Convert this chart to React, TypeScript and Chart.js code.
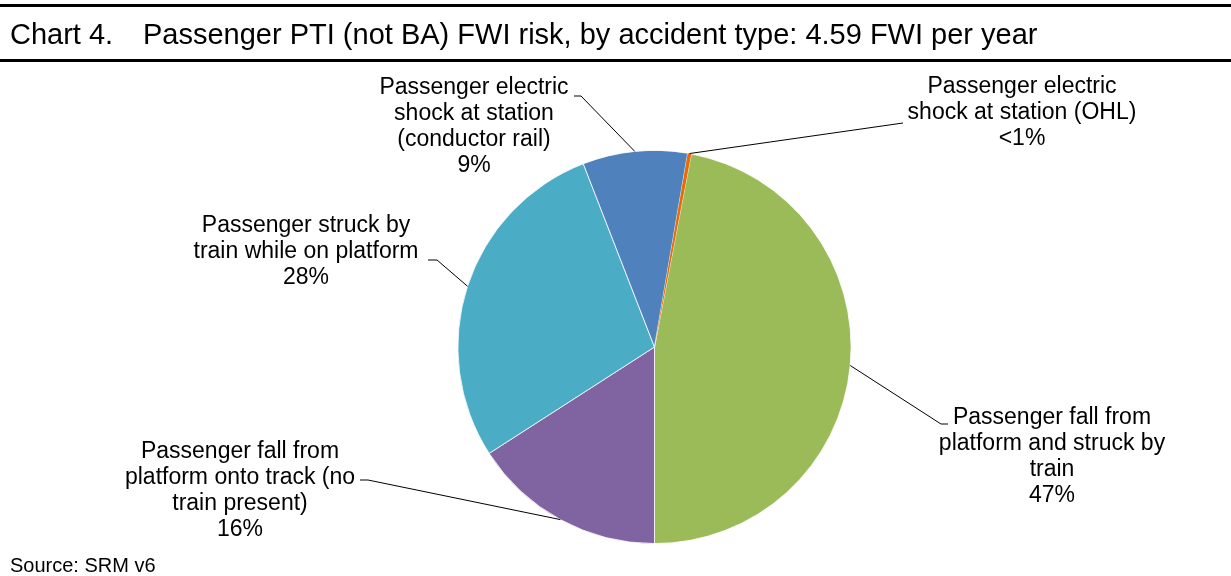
import React, { useEffect, useRef } from "react";
import { Chart, registerables } from "chart.js";

Chart.register(...registerables);

// ---- data ----
const categories = [
  "Passenger fall from platform and struck by train",
  "Passenger fall from platform onto track (no train present)",
  "Passenger struck by train while on platform",
  "Passenger electric shock at station (conductor rail)",
  "Passenger electric shock at station (OHL)",
];
const shares = [47.0, 15.9, 28.2, 8.6, 0.3];
const pctLabels = ["47%", "16%", "28%", "9%", "<1%"];
const labelLines = [
  ["Passenger fall from", "platform and struck by", "train"],
  ["Passenger fall from", "platform onto track (no", "train present)"],
  ["Passenger struck by", "train while on platform"],
  ["Passenger electric", "shock at station", "(conductor rail)"],
  ["Passenger electric", "shock at station (OHL)"],
];
const sliceColors = ["#9BBB59", "#8064A2", "#4BACC6", "#4F81BD", "#E46C0A"];

const titleNumber = "Chart 4.";
const titleText = "Passenger PTI (not BA) FWI risk, by accident type: 4.59 FWI per year";
const sourceText = "Source: SRM v6";

// ---- layout (label placement, leader elbows) ----
const LABEL_FONT = "23px 'Liberation Sans', Arial, sans-serif";
const LINE_H = 26;
const labelLayout = [
  { cx: 1052, y0: 418, elbow: [941, 424], tick: [948, 424] },
  { cx: 240, y0: 452, elbow: [368, 480], tick: [360, 480] },
  { cx: 306, y0: 226, elbow: [437, 260], tick: [428, 260] },
  { cx: 474, y0: 88, elbow: [581, 96], tick: [574, 96] },
  { cx: 1022, y0: 87, elbow: [903, 123], tick: [903, 123] },
];

const decorPlugin = {
  id: "decor",
  afterDraw(chart: any) {
    const ctx = chart.ctx as CanvasRenderingContext2D;
    const W = chart.width;
    ctx.save();
    // header rules
    ctx.fillStyle = "#000";
    ctx.fillRect(0, 4, W, 3);
    ctx.fillRect(0, 59, W, 3);
    // title
    ctx.font = "29px 'Liberation Sans', Arial, sans-serif";
    ctx.textBaseline = "alphabetic";
    ctx.textAlign = "left";
    ctx.fillText(titleNumber, 10, 44);
    ctx.fillText(titleText, 143, 44);
    // source
    ctx.font = "20px 'Liberation Sans', Arial, sans-serif";
    ctx.fillText(sourceText, 10, 572);

    // labels + leaders
    const meta = chart.getDatasetMeta(0);
    ctx.font = LABEL_FONT;
    ctx.textAlign = "center";
    ctx.textBaseline = "middle";
    meta.data.forEach((arc: any, i: number) => {
      const lay = labelLayout[i];
      const lines = [...labelLines[i], pctLabels[i]];
      lines.forEach((t, k) => {
        ctx.fillStyle = "#000";
        ctx.fillText(t, lay.cx, lay.y0 + k * LINE_H);
      });
      const mid = (arc.startAngle + arc.endAngle) / 2;
      const ax = arc.x + arc.outerRadius * Math.cos(mid);
      const ay = arc.y + arc.outerRadius * Math.sin(mid);
      ctx.strokeStyle = "#000";
      ctx.lineWidth = 1;
      ctx.beginPath();
      ctx.moveTo(ax, ay);
      ctx.lineTo(lay.elbow[0], lay.elbow[1]);
      ctx.lineTo(lay.tick[0], lay.tick[1]);
      ctx.stroke();
    });
    ctx.restore();
  },
};

export default function App() {
  const ref = useRef<HTMLCanvasElement | null>(null);
  useEffect(() => {
    document.body.style.margin = "0";
    const chart = new Chart(ref.current as HTMLCanvasElement, {
      type: "pie",
      data: {
        labels: categories,
        datasets: [
          {
            data: shares,
            backgroundColor: sliceColors,
            borderColor: "#FFFFFF",
            borderWidth: [0.8, 0.8, 0.8, 0.8, 0],
          },
        ],
      },
      options: {
        responsive: false,
        animation: false,
        devicePixelRatio: 1,
        rotation: 10.8,
        layout: { padding: { top: 150, bottom: 32, left: 300, right: 222 } },
        plugins: {
          legend: { display: false },
          tooltip: { enabled: false },
          title: { display: false },
        },
      },
      plugins: [decorPlugin],
    });
    return () => chart.destroy();
  }, []);
  return (
    <div style={{ position: "absolute", left: 0, top: 0, width: 1231, height: 576, background: "#fff" }}>
      <canvas ref={ref} width={1231} height={576} style={{ display: "block" }} />
    </div>
  );
}
